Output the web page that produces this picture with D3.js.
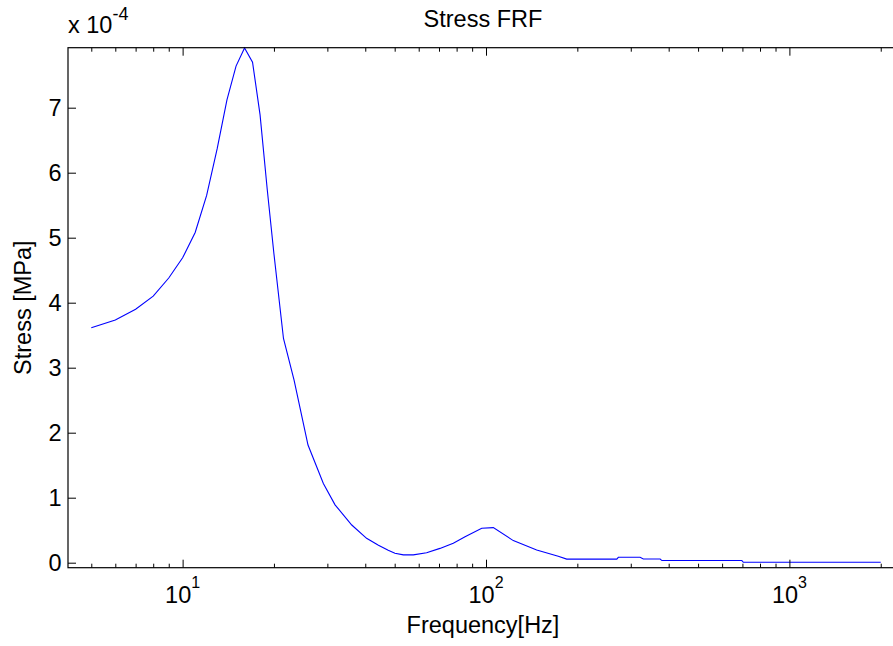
<!DOCTYPE html>
<html>
<head>
<meta charset="utf-8">
<script src="https://cdn.jsdelivr.net/npm/d3@7"></script>
<style>
  body { margin: 0; background: #fff; }
  svg text { font-family: "Liberation Sans", Arial, sans-serif; fill: #000; }
</style>
</head>
<body>
<div id="chart"></div>
<script>
// Stress FRF: respuesta en frecuencia de la tension (eje x logaritmico)

// frecuencia [Hz]
const freq = [5, 6, 7, 8, 9, 10, 11, 12, 13, 14, 15, 16, 17, 18, 19, 20,
  21.5, 23.3, 25.9, 29.1, 31.8, 36.1, 40.4, 44.2, 47.6, 50.1, 53.4, 57.6,
  63.7, 70.5, 78, 85.3, 96.8, 105.7, 123, 146.9, 173, 184.5, 269.8, 273,
  322, 330, 375, 380, 697, 705, 2000];
// tension en unidades de 1e-4 MPa
const stress = [3.615, 3.734, 3.90, 4.10, 4.38, 4.69, 5.08, 5.65, 6.37, 7.12, 7.64, 7.92, 7.70, 6.89, 5.75, 4.75,
  3.45, 2.81, 1.81, 1.22, 0.89, 0.58, 0.375, 0.27, 0.19, 0.145, 0.12, 0.12,
  0.154, 0.22, 0.30, 0.40, 0.53, 0.54, 0.34, 0.195, 0.10, 0.055, 0.055, 0.083,
  0.083, 0.057, 0.057, 0.033, 0.033, 0.006, 0.006];

const xDomain = [4.19, 2280];
const yDomain = [-0.077, 7.923];
const yTicks = [0, 1, 2, 3, 4, 5, 6, 7];
const xMajor = [10, 100, 1000];
const xMinor = [5, 6, 7, 8, 9, 20, 30, 40, 50, 60, 70, 80, 90,
  200, 300, 400, 500, 600, 700, 800, 900, 2000];

const width = 893, height = 646;
const margin = { top: 47.7, right: -5, bottom: 78.3, left: 68 };
const W = width - margin.left - margin.right;
const H = height - margin.top - margin.bottom;
const FS = 23.5;

const x = d3.scaleLog().domain(xDomain).range([0, W]);
const y = d3.scaleLinear().domain(yDomain).range([H, 0]);

const svg = d3.select('#chart').append('svg')
  .attr('width', width).attr('height', height);
const g = svg.append('g').attr('transform', `translate(${margin.left},${margin.top})`);

// linea de datos
const rows = freq.map((f, i) => ({ f, s: stress[i] }));
g.append('path').datum(rows)
  .attr('fill', 'none').attr('stroke', '#0000ff').attr('stroke-width', 1.1)
  .attr('d', d3.line().x(d => x(d.f)).y(d => y(d.s)));

// ejes (ticks hacia dentro, estilo MATLAB)
const axisStyle = sel => {
  sel.select('.domain').remove();
  sel.selectAll('line').attr('stroke', '#000');
};
g.append('g').attr('transform', `translate(0,${H})`)
  .call(d3.axisBottom(x).tickValues(xMajor).tickSizeInner(-8).tickSizeOuter(0).tickFormat(''))
  .call(axisStyle);
g.append('g').attr('transform', `translate(0,${H})`)
  .call(d3.axisBottom(x).tickValues(xMinor).tickSizeInner(-4).tickSizeOuter(0).tickFormat(''))
  .call(axisStyle);
g.append('g')
  .call(d3.axisTop(x).tickValues(xMajor).tickSizeInner(-8).tickSizeOuter(0).tickFormat(''))
  .call(axisStyle);
g.append('g')
  .call(d3.axisTop(x).tickValues(xMinor).tickSizeInner(-4).tickSizeOuter(0).tickFormat(''))
  .call(axisStyle);
g.append('g')
  .call(d3.axisLeft(y).tickValues(yTicks).tickSizeInner(-8).tickSizeOuter(0).tickFormat(''))
  .call(axisStyle);

// etiquetas del eje x: 10^n
xMajor.forEach(v => {
  const t = g.append('text').attr('x', x(v)).attr('y', H + 35.6)
    .attr('text-anchor', 'middle').attr('font-size', FS);
  t.append('tspan').text('10');
  t.append('tspan').attr('dy', -15).attr('font-size', 16).text(Math.round(Math.log10(v)));
});
// etiquetas del eje y
yTicks.forEach(v => {
  g.append('text').attr('x', -6.5).attr('y', y(v)).attr('dy', '0.36em')
    .attr('text-anchor', 'end').attr('font-size', FS).text(v);
});

// caja
g.append('rect').attr('width', W).attr('height', H)
  .attr('fill', 'none').attr('stroke', '#000').attr('stroke-width', 1.2);

// multiplicador
const m = svg.append('text').attr('x', 68).attr('y', 33.3).attr('font-size', FS);
m.append('tspan').text('x 10');
m.append('tspan').attr('dy', -13).attr('font-size', 18).text('-4');

// titulo y etiquetas
svg.append('text').attr('x', margin.left + W / 2).attr('y', 26.7)
  .attr('text-anchor', 'middle').attr('font-size', FS).text('Stress FRF');
svg.append('text').attr('x', margin.left + W / 2).attr('y', 633)
  .attr('text-anchor', 'middle').attr('font-size', FS).text('Frequency[Hz]');
svg.append('text').attr('transform', `translate(31,${margin.top + H / 2}) rotate(-90)`)
  .attr('text-anchor', 'middle').attr('font-size', FS).text('Stress [MPa]');
</script>
</body>
</html>
